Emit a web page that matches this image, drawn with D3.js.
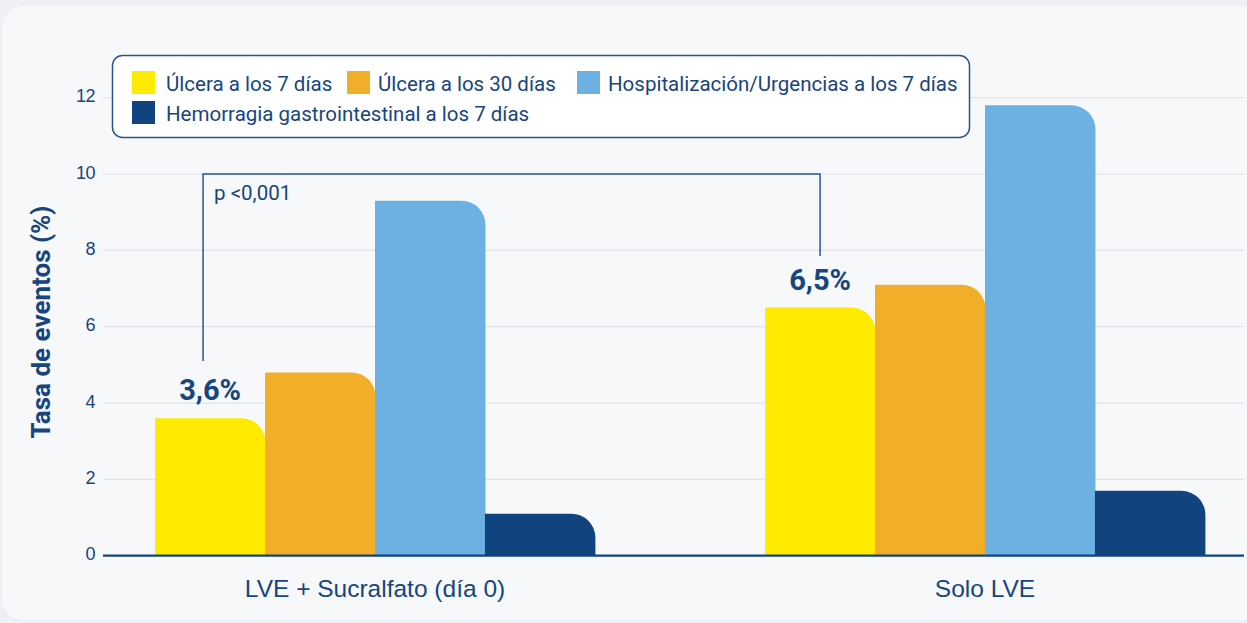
<!DOCTYPE html>
<html>
<head>
<meta charset="utf-8">
<script src="https://cdn.jsdelivr.net/npm/d3@7"></script>
<style>
  html, body { margin: 0; padding: 0; background: #eef0f5; }
  svg { display: block; font-family: Roboto, "Noto Sans", sans-serif; }
</style>
</head>
<body>
<svg id="chart" width="1247" height="623"></svg>
<script>
'use strict';

var groups = ['LVE + Sucralfato (día 0)', 'Solo LVE'];
var series = [
  'Úlcera a los 7 días',
  'Úlcera a los 30 días',
  'Hospitalización/Urgencias a los 7 días',
  'Hemorragia gastrointestinal a los 7 días'
];
var colors = ['#ffea00', '#f0ae29', '#6cb1e1', '#11447e'];
var valuesLVESucralfato = [3.6, 4.8, 9.3, 1.1];
var valuesSoloLVE = [6.5, 7.1, 11.8, 1.7];
var highlightLabels = ['3,6%', '6,5%'];
var yTicks = [0, 2, 4, 6, 8, 10, 12];
var pValueText = 'p <0,001';
var yTitle = 'Tasa de eventos (%)';

var data = groups.map(function(g, i) {
  var vals = i === 0 ? valuesLVESucralfato : valuesSoloLVE;
  return { group: g, values: vals.map(function(v, j) { return { series: series[j], value: v, idx: j }; }) };
});

var textColor = '#16457f';
var svg = d3.select('#chart');

// card background
svg.append('rect')
  .attr('x', 2).attr('y', 6)
  .attr('width', 1280).attr('height', 614)
  .attr('rx', 22)
  .attr('fill', '#f7f8fa');

var plot = { left: 103, right: 1244 };

var y = d3.scaleLinear().domain([0, 12]).range([555.7, 97.7]);
var x0 = d3.scaleBand().domain(groups).range([70, 1290])
  .paddingInner(0.279).paddingOuter(0.1395);
var x1 = d3.scaleBand().domain(series).range([0, x0.bandwidth()]);

// grid
svg.append('g').selectAll('line')
  .data(yTicks.filter(function(t) { return t > 0; }))
  .enter().append('line')
  .attr('x1', plot.left).attr('x2', plot.right)
  .attr('y1', function(d) { return y(d); })
  .attr('y2', function(d) { return y(d); })
  .attr('stroke', '#dfe4ec')
  .attr('stroke-width', 1.2);

// y axis labels
var yAxis = d3.axisLeft(y).tickValues(yTicks).tickSize(0).tickPadding(8);
var yg = svg.append('g').attr('transform', 'translate(' + (plot.left) + ',0)').call(yAxis);
yg.select('.domain').remove();
yg.selectAll('text')
  .attr('fill', textColor)
  .style('font-size', '18px')
  .style('letter-spacing', '-0.5px')
  .attr('x', -8)
  .attr('dy', '0.22em');

svg.append('text')
  .attr('transform', 'translate(50,322) rotate(-90)')
  .attr('text-anchor', 'middle')
  .attr('fill', textColor)
  .style('font-size', '26px')
  .style('font-weight', 700)
  .text(yTitle);

// bars with rounded top-right corner
function barPath(x, y0, w, h, r) {
  r = Math.min(r, h, w);
  return 'M' + x + ',' + (y0 + h) +
    'V' + y0 +
    'H' + (x + w - r) +
    'A' + r + ',' + r + ' 0 0 1 ' + (x + w) + ',' + (y0 + r) +
    'V' + (y0 + h) + 'Z';
}

var groupSel = svg.append('g').selectAll('g')
  .data(data).enter().append('g')
  .attr('transform', function(d) { return 'translate(' + x0(d.group) + ',0)'; });

groupSel.selectAll('path')
  .data(function(d) { return d.values; })
  .enter().append('path')
  .attr('d', function(d) {
    return barPath(x1(d.series), y(d.value), x1.bandwidth() + 0.5, y(0) - y(d.value), 24);
  })
  .attr('fill', function(d) { return colors[d.idx]; });

// x axis
svg.append('line')
  .attr('x1', plot.left).attr('x2', plot.right)
  .attr('y1', y(0)).attr('y2', y(0))
  .attr('stroke', '#11447e').attr('stroke-width', 2.2);

var xAxis = d3.axisBottom(x0).tickSize(0).tickPadding(0);
var xg = svg.append('g').attr('transform', 'translate(0,' + y(0) + ')').call(xAxis);
xg.select('.domain').remove();
xg.selectAll('text')
  .attr('fill', textColor)
  .attr('y', 41)
  .attr('dy', 0)
  .style('font-size', '24.5px');

// highlighted labels over yellow bars
groupSel.append('text')
  .attr('x', x1(series[0]) + x1.bandwidth() / 2)
  .attr('y', function(d) { return y(d.values[0].value) - 18; })
  .attr('text-anchor', 'middle')
  .attr('fill', textColor)
  .style('font-size', '29px')
  .style('font-weight', 700)
  .text(function(d, i) { return highlightLabels[i]; });

// significance bracket
var bx1 = x0(groups[0]) + x1(series[0]) + x1.bandwidth() / 2 - 7;
var bx2 = x0(groups[1]) + x1(series[0]) + x1.bandwidth() / 2;
svg.append('path')
  .attr('d', 'M' + bx1 + ',' + y(5.1) + 'V' + y(10) + 'H' + bx2 + 'V' + y(7.85))
  .attr('fill', 'none')
  .attr('stroke', '#2a5590')
  .attr('stroke-width', 1.5);

svg.append('text')
  .attr('x', bx1 + 11)
  .attr('y', y(10) + 26)
  .attr('fill', textColor)
  .style('font-size', '20.5px')
  .text(pValueText);

// legend
var legend = svg.append('g');
legend.append('rect')
  .attr('x', 112.5).attr('y', 55.5)
  .attr('width', 857).attr('height', 82)
  .attr('rx', 10)
  .attr('fill', '#ffffff')
  .attr('stroke', '#2a5590')
  .attr('stroke-width', 1.5);

var legendPos = [
  { x: 132, y: 71 }, { x: 347, y: 71 }, { x: 577, y: 71 }, { x: 132, y: 101 }
];
var items = legend.selectAll('g.item')
  .data(series).enter().append('g')
  .attr('class', 'item')
  .attr('transform', function(d, i) { return 'translate(' + legendPos[i].x + ',' + legendPos[i].y + ')'; });

items.append('rect')
  .attr('width', 23).attr('height', 23)
  .attr('fill', function(d, i) { return colors[i]; });

items.append('text')
  .attr('x', function(d, i) { return i === 0 || i === 3 ? 34 : 31; })
  .attr('y', 19.5)
  .attr('fill', textColor)
  .style('font-size', '20.5px')
  .text(function(d) { return d; });
</script>
</body>
</html>
